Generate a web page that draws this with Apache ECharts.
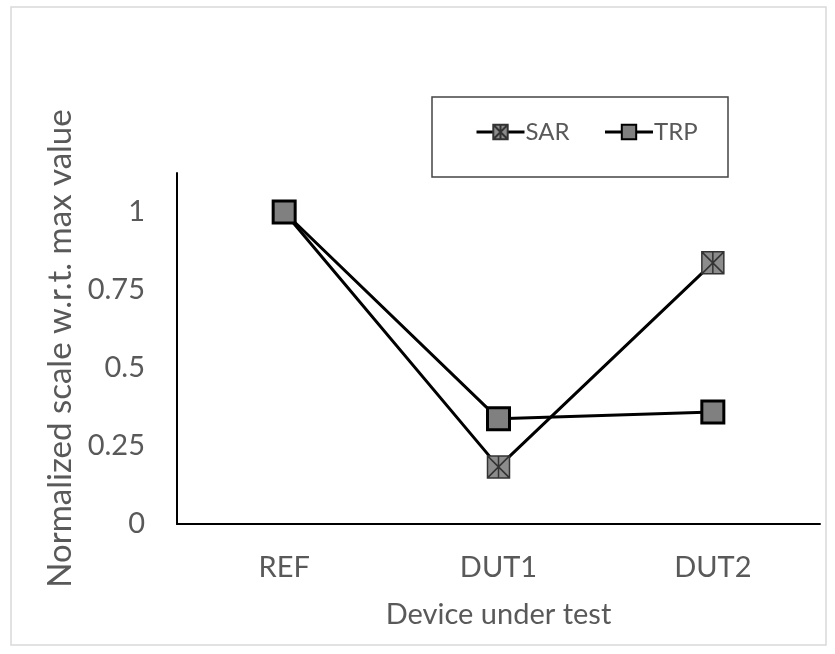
<!DOCTYPE html>
<html>
<head>
<meta charset="utf-8">
<script src="https://cdn.jsdelivr.net/npm/echarts@6/dist/echarts.min.js"></script>
<style>html,body{margin:0;padding:0;background:#fff;}#c{width:835px;height:654px;}</style>
</head>
<body>
<div id="c"></div>
<script>
var categories = ['REF', 'DUT1', 'DUT2'];
var sarValues = [1, 0.183, 0.837];
var trpValues = [1, 0.337, 0.359];
var yTicks = [0, 0.25, 0.5, 0.75, 1];

var chart = echarts.init(document.getElementById('c'));
var font = 'Lato, "Open Sans", sans-serif';
var txt = '#595959';
var sarSymbol = 'path://M0,0L20,0L20,20L0,20Z M0,0L20,20 M20,0L0,20 M10,0L10,20';

chart.setOption({
  backgroundColor: '#fff',
  animation: false,
  graphic: [
    { type: 'rect', shape: { x: 11, y: 7, width: 815, height: 638 }, style: { fill: 'none', stroke: '#d9d9d9', lineWidth: 1.5 }, z: 0 },
    { type: 'rect', shape: { x: 432, y: 97, width: 296, height: 80 }, style: { fill: 'none', stroke: '#444', lineWidth: 1.5 }, z: 0 }
  ],
  legend: {
    top: 115, left: 470,
    itemWidth: 48, itemHeight: 18, itemGap: 34,
    lineStyle: { width: 3, color: '#000' },
    textStyle: { color: txt, fontSize: 24, fontFamily: font, padding: [0, 0, 0, -4] },
    data: ['SAR', 'TRP']
  },
  grid: { left: 177, right: 15, top: 173, bottom: 130 },
  xAxis: {
    type: 'category',
    data: categories,
    boundaryGap: true,
    name: 'Device under test',
    nameLocation: 'middle',
    nameGap: 76,
    nameTextStyle: { color: txt, fontSize: 29, fontFamily: font },
    axisLine: { lineStyle: { color: '#000', width: 2 } },
    axisTick: { show: false },
    axisLabel: { color: txt, fontSize: 29, fontFamily: font, margin: 29 }
  },
  yAxis: {
    type: 'value',
    min: 0, max: 1.125, interval: 0.25,
    name: 'Normalized scale w.r.t. max value',
    nameLocation: 'middle',
    nameGap: 94,
    nameTextStyle: { color: txt, fontSize: 33, fontFamily: font },
    axisLine: { show: true, lineStyle: { color: '#000', width: 2 } },
    axisTick: { show: false },
    splitLine: { show: false },
    axisLabel: {
      color: txt, fontSize: 29, fontFamily: font, margin: 32,
      formatter: function (v) {
        for (var i = 0; i < yTicks.length; i++) { if (Math.abs(yTicks[i] - v) < 1e-6) return String(yTicks[i]); }
        return '';
      }
    }
  },
  series: [
    {
      name: 'SAR', type: 'line', data: sarValues,
      symbol: sarSymbol, symbolSize: 22,
      lineStyle: { color: '#000', width: 3 },
      itemStyle: { color: '#8c8c8c', borderColor: '#333', borderWidth: 1.5 },
      z: 2
    },
    {
      name: 'TRP', type: 'line', data: trpValues,
      symbol: 'rect', symbolSize: 22,
      lineStyle: { color: '#000', width: 3 },
      itemStyle: { color: '#808080', borderColor: '#000', borderWidth: 3 },
      z: 3
    }
  ]
});
</script>
</body>
</html>
